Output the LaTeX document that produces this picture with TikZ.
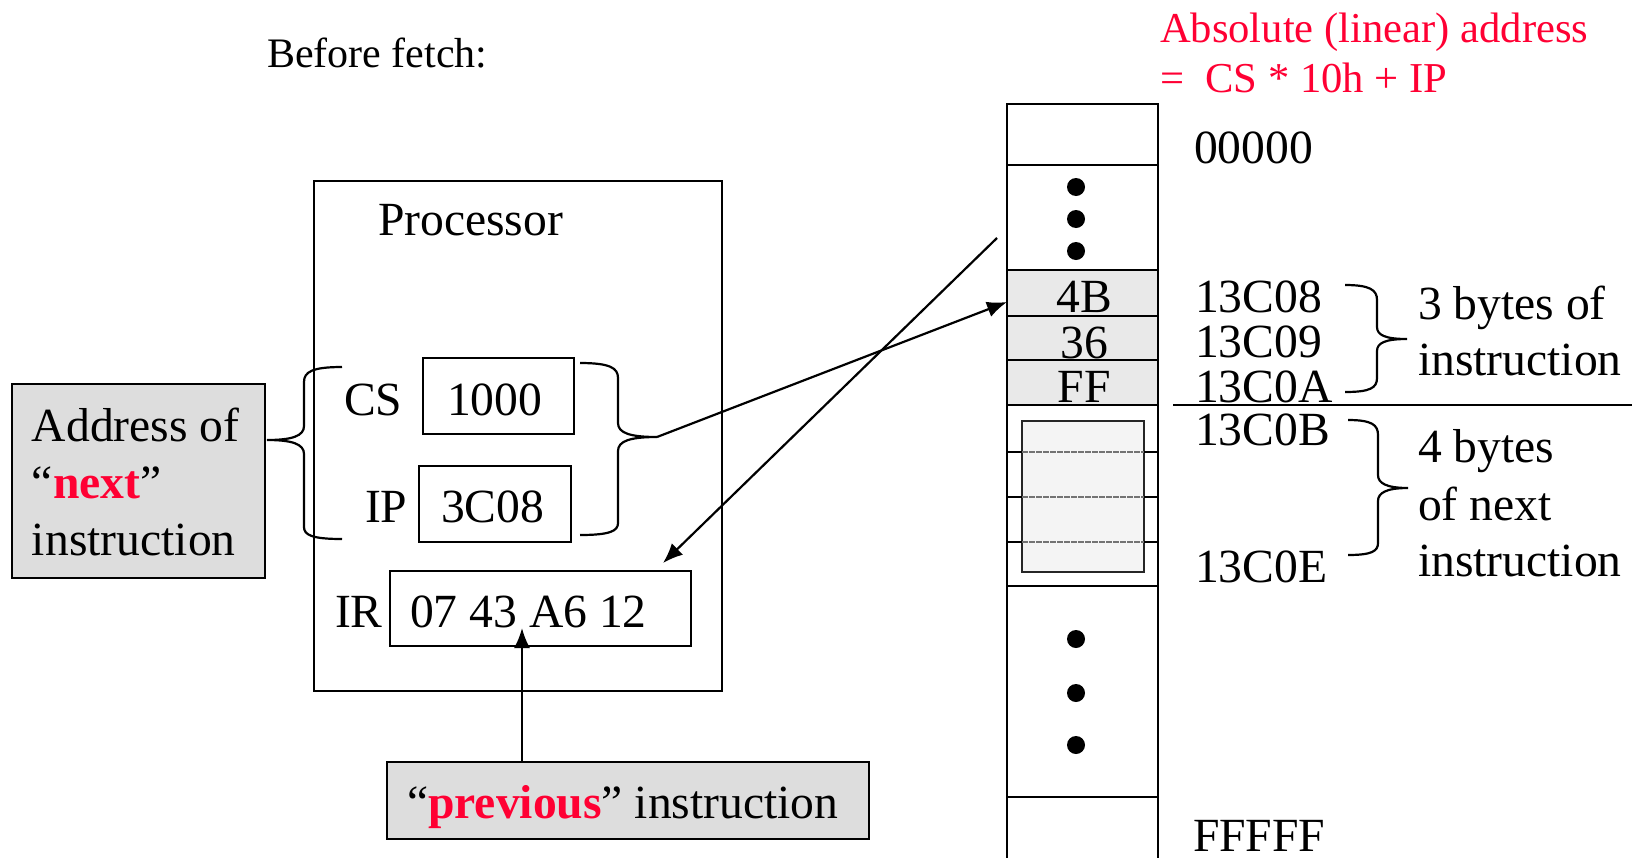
\documentclass[tikz,border=0pt]{standalone}
\usepackage{fontspec}
\setmainfont{Liberation Serif}
\usetikzlibrary{fit,arrows.meta,calc}
\definecolor{hired}{RGB}{255,0,51}
\definecolor{boxgray}{RGB}{221,221,221}
\definecolor{cellgray}{RGB}{233,233,233}
\definecolor{innergray}{RGB}{244,244,244}
\begin{document}
\begin{tikzpicture}[x=0.5pt,y=-0.5pt, line width=1.1pt,
  every node/.style={inner sep=0pt, outer sep=0pt},
  txt/.style={font=\fontsize{23.8}{28.5}\selectfont, anchor=base west},
  redtxt/.style={font=\fontsize{21.3}{25}\selectfont, anchor=base west, text=hired},
  boxr/.style={draw, inner sep=0pt},
  gbox/.style={draw, fill=boxgray, inner sep=0pt, line width=1.3pt},
  cell/.style={draw, inner sep=0pt, line width=1.3pt},
  shcell/.style={draw, fill=cellgray, inner sep=0pt, line width=1.3pt},
  arr/.style={-{Latex[length=10pt,width=8pt]}, line width=1.1pt},
  bracepath/.style={line width=1.1pt},
  dotc/.style={fill=black}]
\useasboundingbox (0,0) rectangle (1632,857);

% title texts
\node[txt, font=\fontsize{21}{24}\selectfont] (before) at (267,67) {Before fetch:};
\node[redtxt] (abs1) at (1160,42) {Absolute (linear) address};
\node[redtxt] (abs2) at (1160,92) {=\ \ CS * 10h + IP};

% processor
\node[boxr, fit={(314,181)(722,691)}] (proc) {};
\node[txt] (proctxt) at (378,235) {Processor};
\node[boxr, fit={(423,358)(574,434)}] (cs) {};
\node[boxr, fit={(419,466)(571,542)}] (ip) {};
\node[boxr, fit={(390,571)(691,646)}] (ir) {};
\node[txt] (cslbl) at (344,415) {CS};
\node[txt] (csval) at (447,415) {1000};
\node[txt] (iplbl) at (365,522) {IP};
\node[txt] (ipval) at (441,522) {3C08};
\node[txt] (irlbl) at (335,627) {IR};
\node[txt] (irval) at (410,627) {07 43 A6 12};

% address box
\node[gbox, fit={(12,384)(265,578)}] (addr) {};
\node[txt] (addr1) at (32,441) {Address of};
\node[txt] (addr2) at (32,498) {“\textcolor{hired}{\textbf{next}}”};
\node[txt] (addr3) at (32,555) {instruction};

% previous box
\node[gbox, fit={(387,762)(869,839)}] (prev) {};
\node[txt] (prevtxt) at (407,818) {“\textcolor{hired}{\textbf{previous}}” instruction};

% braces around CS/IP
\draw[bracepath] (342,367) .. controls (312,367) and (304,372) .. (304,382) -- (304,426)
  .. controls (304,436) and (292,440) .. (267,440)
  .. controls (292,440) and (304,444) .. (304,454) -- (304,527)
  .. controls (304,535) and (312,539) .. (342,539);
\draw[bracepath] (580,363) .. controls (610,363) and (618,368) .. (618,378) -- (618,423)
  .. controls (618,433) and (630,437) .. (657,437)
  .. controls (630,437) and (618,441) .. (618,451) -- (618,523)
  .. controls (618,531) and (610,535) .. (580,535);
\coordinate (rbtip) at (657,437);

% memory column
\node[cell, fit={(1007,104)(1158,165)}] (mem0) {};
\node[cell, fit={(1007,165)(1158,270)}] (mdots1) {};
\node[shcell, fit={(1007,270)(1158,316)}] (m4B) {};
\node[shcell, fit={(1007,316)(1158,360)}] (m36) {};
\node[shcell, fit={(1007,360)(1158,405)}] (mFF) {};
\node[cell, fit={(1007,405)(1158,586)}] (mnext) {};
\node[cell, fit={(1007,586)(1158,797)}] (mdots2) {};
\node[cell, fit={(1007,797)(1158,890)}] (mlast) {};
\node[draw=black!85, line width=1.3pt, fill=innergray, fit={(1022,421)(1144,572)}] (inner) {};
\foreach \yy in {452,497,542} {
  \draw[line width=1.3pt] (1007,\yy) -- (1022,\yy);
  \draw[line width=1.3pt] (1144,\yy) -- (1158,\yy);
  \draw[black!55, line width=1.4pt, dash pattern=on 3pt off 0.5pt] (1022,\yy) -- (1144,\yy);
}
\foreach \yy in {187,219,251,639,693,745} {
  \fill[dotc] (1076,\yy) circle (4.5pt);
}
\node[txt, anchor=base] (t4B) at (1084,312) {4B};
\node[txt, anchor=base] (t36) at (1084,358) {36};
\node[txt, anchor=base] (tFF) at (1084,402) {FF};

% addresses
\node[txt] (a0) at (1194,163) {00000};
\node[txt] (a8) at (1195,312) {13C08};
\node[txt] (a9) at (1195,357) {13C09};
\node[txt] (aA) at (1195,402) {13C0A};
\node[txt] (aB) at (1195,445) {13C0B};
\node[txt] (aE) at (1195,582) {13C0E};
\node[txt] (aF) at (1193,851) {FFFFF};
\draw[line width=1.3pt] (1173,405) -- (1632,405);

% right braces
\draw[bracepath] (1345,285) .. controls (1370,285) and (1377,290) .. (1377,300) -- (1377,327)
  .. controls (1377,335) and (1385,339) .. (1407,339)
  .. controls (1385,339) and (1377,343) .. (1377,351) -- (1377,378)
  .. controls (1377,388) and (1370,392) .. (1345,392);
\draw[bracepath] (1348,420) .. controls (1372,420) and (1378,425) .. (1378,435) -- (1378,475)
  .. controls (1378,483) and (1386,488) .. (1408,488)
  .. controls (1386,488) and (1378,493) .. (1378,501) -- (1378,543)
  .. controls (1378,551) and (1372,555) .. (1348,555);
\node[txt] (b1) at (1418,319) {3 bytes of};
\node[txt] (b2) at (1418,375) {instruction};
\node[txt] (b3) at (1418,462) {4 bytes};
\node[txt] (b4) at (1418,520) {of next};
\node[txt] (b5) at (1418,576) {instruction};

% arrows
\draw[arr] (rbtip) -- ([yshift=-4.5pt]m4B.west);
\coordinate (fetchsrc) at (997,238);
\draw[arr] (fetchsrc) -- ([xshift=-14pt,yshift=4pt]ir.north east);
\coordinate (irtip) at (522,628);
\draw[arr] (prev.north -| irtip) -- (irtip);
\end{tikzpicture}
\end{document}
